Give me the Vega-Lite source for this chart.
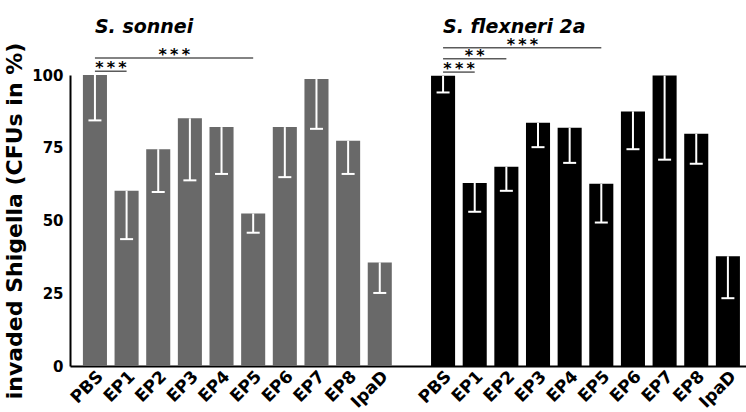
{
  "$schema": "https://vega.github.io/schema/vega-lite/v6.json",
  "autosize": {"type": "none"},
  "padding": {"left": 70, "top": 75, "right": 0, "bottom": 46},
  "width": 676,
  "height": 291,
  "background": "white",
  "config": {"view": {"stroke": null}},
  "datasets": {
    "bars": [
      {"id": "S-PBS", "group": "S. sonnei", "mean": 100, "lower": 84.4},
      {"id": "S-EP1", "group": "S. sonnei", "mean": 60.2, "lower": 43.6},
      {"id": "S-EP2", "group": "S. sonnei", "mean": 74.5, "lower": 59.8},
      {"id": "S-EP3", "group": "S. sonnei", "mean": 85.1, "lower": 63.8},
      {"id": "S-EP4", "group": "S. sonnei", "mean": 82.1, "lower": 66.0},
      {"id": "S-EP5", "group": "S. sonnei", "mean": 52.4, "lower": 45.8},
      {"id": "S-EP6", "group": "S. sonnei", "mean": 82.1, "lower": 64.9},
      {"id": "S-EP7", "group": "S. sonnei", "mean": 98.6, "lower": 81.5},
      {"id": "S-EP8", "group": "S. sonnei", "mean": 77.4, "lower": 66.0},
      {"id": "S-IpaD", "group": "S. sonnei", "mean": 35.6, "lower": 25.1},
      {"id": "F-PBS", "group": "S. flexneri 2a", "mean": 99.7, "lower": 94.0},
      {"id": "F-EP1", "group": "S. flexneri 2a", "mean": 62.9, "lower": 53.0},
      {"id": "F-EP2", "group": "S. flexneri 2a", "mean": 68.5, "lower": 60.2},
      {"id": "F-EP3", "group": "S. flexneri 2a", "mean": 83.6, "lower": 75.2},
      {"id": "F-EP4", "group": "S. flexneri 2a", "mean": 81.9, "lower": 69.8},
      {"id": "F-EP5", "group": "S. flexneri 2a", "mean": 62.6, "lower": 49.3},
      {"id": "F-EP6", "group": "S. flexneri 2a", "mean": 87.5, "lower": 74.5},
      {"id": "F-EP7", "group": "S. flexneri 2a", "mean": 99.8, "lower": 70.9},
      {"id": "F-EP8", "group": "S. flexneri 2a", "mean": 79.8, "lower": 69.5},
      {"id": "F-IpaD", "group": "S. flexneri 2a", "mean": 37.7, "lower": 23.3}
    ],
    "brackets": [
      {"from": "S-PBS", "to": "S-EP1", "level": 101.3, "stars": "*\u2009*\u2009*", "at": "S-PBS", "mode": "between"},
      {"from": "S-PBS", "to": "S-EP5", "level": 105.8, "stars": "*\u2009*\u2009*", "at": "S-EP2", "mode": "between"},
      {"from": "F-PBS", "to": "F-EP1", "level": 101.0, "stars": "*\u2009*\u2009*", "at": "F-PBS", "mode": "between"},
      {"from": "F-PBS", "to": "F-EP2", "level": 105.6, "stars": "*\u2009*", "at": "F-EP1", "mode": "center"},
      {"from": "F-PBS", "to": "F-EP5", "level": 109.4, "stars": "*\u2009*\u2009*", "at": "F-EP2", "mode": "between"}
    ],
    "titles": [
      {"id": "S-PBS", "name": "S. sonnei", "level": 114.4},
      {"id": "F-PBS", "name": "S. flexneri 2a", "level": 114.4}
    ]
  },
  "layer": [
    {
      "data": {"name": "bars"},
      "mark": {"type": "bar"},
      "encoding": {
        "x": {
          "field": "id", "type": "nominal",
          "scale": {
            "domain": ["S-PBS","S-EP1","S-EP2","S-EP3","S-EP4","S-EP5","S-EP6","S-EP7","S-EP8","S-IpaD","gap","F-PBS","F-EP1","F-EP2","F-EP3","F-EP4","F-EP5","F-EP6","F-EP7","F-EP8","F-IpaD"],
            "paddingInner": 0.24, "paddingOuter": 0.3, "align": 0.68
          },
          "axis": {
            "title": null,
            "labelExpr": "datum.value == 'gap' ? '' : split(datum.value, '-')[1]",
            "labelAngle": -45, "labelAlign": "right", "labelBaseline": "top",
            "labelFont": "DejaVu Sans", "labelFontWeight": "bold", "labelFontSize": 17,
            "labelColor": "black", "labelPadding": 2,
            "ticks": false, "domainColor": "black", "domainWidth": 2, "grid": false
          }
        },
        "y": {
          "field": "mean", "type": "quantitative",
          "scale": {"domain": [0, 100], "nice": false},
          "axis": {
            "title": "invaded Shigella (CFUs in %)",
            "titleFont": "DejaVu Sans", "titleFontWeight": "bold", "titleFontSize": 22,
            "titleColor": "black", "titlePadding": 5,
            "values": [0, 25, 50, 75, 100],
            "labelFont": "DejaVu Sans", "labelFontWeight": "bold", "labelFontSize": 15,
            "labelColor": "black", "labelPadding": 7,
            "ticks": false, "domainColor": "black", "domainWidth": 2, "grid": false
          }
        },
        "color": {
          "field": "group", "type": "nominal",
          "scale": {"domain": ["S. sonnei", "S. flexneri 2a"], "range": ["#696969", "#000000"]},
          "legend": null
        }
      }
    },
    {
      "data": {"name": "bars"},
      "mark": {"type": "rule", "color": "white", "strokeWidth": 2},
      "encoding": {
        "x": {"field": "id", "type": "nominal"},
        "y": {"field": "mean", "type": "quantitative"},
        "y2": {"field": "lower"}
      }
    },
    {
      "data": {"name": "bars"},
      "mark": {"type": "tick", "color": "white", "orient": "horizontal", "size": 13, "thickness": 2, "opacity": 1},
      "encoding": {
        "x": {"field": "id", "type": "nominal"},
        "y": {"field": "lower", "type": "quantitative"}
      }
    },
    {
      "data": {"name": "brackets"},
      "mark": {"type": "rule", "color": "#5a5a5a", "strokeWidth": 1.5},
      "encoding": {
        "x": {"field": "from", "type": "nominal"},
        "x2": {"field": "to"},
        "y": {"field": "level", "type": "quantitative"}
      }
    },
    {
      "data": {"name": "brackets"},
      "transform": [{"filter": "datum.mode == 'between'"}],
      "mark": {"type": "text", "font": "DejaVu Sans", "fontWeight": "bold", "fontSize": 16, "fill": "black", "align": "center", "baseline": "alphabetic", "dx": 4, "dy": 2},
      "encoding": {
        "x": {"field": "at", "type": "nominal", "bandPosition": 1},
        "y": {"field": "level", "type": "quantitative"},
        "text": {"field": "stars"}
      }
    },
    {
      "data": {"name": "brackets"},
      "transform": [{"filter": "datum.mode == 'center'"}],
      "mark": {"type": "text", "font": "DejaVu Sans", "fontWeight": "bold", "fontSize": 16, "fill": "black", "align": "center", "baseline": "alphabetic", "dy": 2},
      "encoding": {
        "x": {"field": "at", "type": "nominal"},
        "y": {"field": "level", "type": "quantitative"},
        "text": {"field": "stars"}
      }
    },
    {
      "data": {"name": "titles"},
      "mark": {"type": "text", "font": "DejaVu Sans", "fontWeight": "bold", "fontStyle": "italic", "fontSize": 19, "fill": "black", "align": "left", "baseline": "alphabetic"},
      "encoding": {
        "x": {"field": "id", "type": "nominal"},
        "y": {"field": "level", "type": "quantitative"},
        "text": {"field": "name"}
      }
    }
  ]
}
